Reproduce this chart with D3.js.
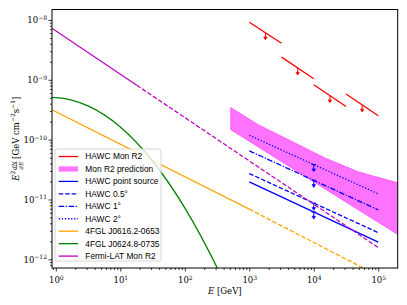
<!DOCTYPE html>
<html>
<head>
<meta charset="utf-8">
<script src="https://cdn.jsdelivr.net/npm/d3@7/dist/d3.min.js"></script>
<style>
  body { margin: 0; background: #fff; }
  svg { display: block; }
  .tick text { font-family: "DejaVu Serif", "Liberation Serif", serif; }
</style>
</head>
<body>
<div class="chart"></div>
<script>
// HAWC Mon R2 upper limits, one segment per bin
var hawcBinLo = [1000, 3162, 10000, 31623];
var hawcBinHi = [3162, 10000, 31623, 100000];
var hawcFluxLo = [9.16e-9, 2.39e-9, 8.26e-10, 5.78e-10];
var hawcFluxHi = [4.09e-9, 1.04e-9, 3.59e-10, 2.51e-10];

// Mon R2 prediction band
var bandE = [515, 1380, 4540, 14900, 49000, 200000];
var bandHi = [3.45e-10, 1.78e-10, 9.37e-11, 4.95e-11, 2.90e-11, 1.90e-11];
var bandLo = [1.47e-10, 7.53e-11, 3.37e-11, 1.50e-11, 6.71e-12, 2.61e-12];

// HAWC sensitivities (endpoints at 1 TeV and 100 TeV)
var hawcE = [1000, 100000];
var hawcPoint = [1.97e-11, 1.94e-12];
var hawcHalf = [2.71e-11, 2.79e-12];
var hawcOne = [6.5e-11, 6.7e-12];
var hawcTwo = [1.18e-10, 1.24e-11];
var hawcUlE = 10000;
var hawcUlFlux = [6.18e-12, 8.70e-12, 2.09e-11, 3.83e-11];

// 4FGL J0616.2-0653
var orangeE = [0.87, 1000, 100000];
var orangeF = [3.16e-10, 6.9e-12, 5.3e-13];

// 4FGL J0624.8-0735
var greenE = [0.87, 1, 3.16, 10, 31.6, 100, 316, 398];
var greenF = [5.07e-10, 5.05e-10, 3.66e-10, 1.63e-10, 4.40e-11, 7.26e-12, 7.31e-13, 4.36e-13];

// Fermi-LAT Mon R2
var fermiE = [0.87, 18, 100000];
var fermiF = [7.28e-9, 8.1e-10, 1.57e-12];

var xTicks = [1, 10, 100, 1000, 10000, 100000];
var yTicks = [1e-12, 1e-11, 1e-10, 1e-9, 1e-8];

var legendLabels = ["HAWC Mon R2", "Mon R2 prediction", "HAWC point source", "HAWC 0.5°",
  "HAWC 1°", "HAWC 2°", "4FGL J0616.2-0653", "4FGL J0624.8-0735", "Fermi-LAT Mon R2"];

var red = "#ff0000", blue = "#0000ff", orange = "#ffa500", green = "#008000", magenta = "#bf00bf";

var width = 407, height = 305;
var margins = { top: 9.5, right: 9.3, bottom: 37, left: 52 };
var chartWidth = width - margins.left - margins.right;
var chartHeight = height - margins.top - margins.bottom;

var svg = d3.select("div.chart").append("svg")
  .attr("width", width)
  .attr("height", height);

var chart = svg.append("g")
  .attr("transform", `translate(${margins.left},${margins.top})`);

var xScale = d3.scaleLog().domain([0.873, 2e5]).range([0, chartWidth]);
var yScale = d3.scaleLog().domain([7.16e-13, 1.496e-8]).range([chartHeight, 0]);

svg.append("defs").append("clipPath").attr("id", "plotclip")
  .append("rect").attr("width", chartWidth).attr("height", chartHeight);

var plot = chart.append("g").attr("clip-path", "url(#plotclip)");

var line = d3.line().x(d => xScale(d[0])).y(d => yScale(d[1]));
var zip = (a, b) => a.map((v, i) => [v, b[i]]);

function drawPath(pts, color, dash, curve) {
  var l = curve ? line.curve(curve) : line.curve(d3.curveLinear);
  return plot.append("path")
    .attr("d", l(pts))
    .attr("fill", "none")
    .attr("stroke", color)
    .attr("stroke-width", 1.3)
    .attr("stroke-dasharray", dash || null);
}

// down arrow used for upper limits
function ulArrow(x, y, color, cap) {
  var g = plot.append("g").attr("stroke", color).attr("fill", color);
  if (cap) {
    g.append("line").attr("x1", x - 2.2).attr("x2", x + 2.2).attr("y1", y).attr("y2", y).attr("stroke-width", 1);
  }
  g.append("line").attr("x1", x).attr("x2", x).attr("y1", y).attr("y2", y + 5).attr("stroke-width", 1);
  g.append("path").attr("d", `M${x - 1.8},${y + 4.3}L${x + 1.8},${y + 4.3}L${x},${y + 7.2}Z`).attr("stroke-width", 0.6);
}

// HAWC Mon R2
hawcBinLo.forEach(function(lo, i) {
  drawPath([[lo, hawcFluxLo[i]], [hawcBinHi[i], hawcFluxHi[i]]], red);
  var xm = Math.sqrt(lo * hawcBinHi[i]);
  var fm = Math.sqrt(hawcFluxLo[i] * hawcFluxHi[i]);
  ulArrow(xScale(xm), yScale(fm), red, false);
});

// prediction band
var area = d3.area()
  .x(d => xScale(d[0]))
  .y0(d => yScale(d[2]))
  .y1(d => yScale(d[1]));
plot.append("path")
  .attr("d", area(bandE.map((e, i) => [e, bandHi[i], bandLo[i]])))
  .attr("fill", "#ff00ff")
  .attr("fill-opacity", 0.55)
  .attr("stroke", "#ff00ff")
  .attr("stroke-opacity", 0.55)
  .attr("stroke-width", 0.8);

// HAWC sensitivities
var hawcSeries = [hawcPoint, hawcHalf, hawcOne, hawcTwo];
var hawcDash = [null, "4.5,2", "5.5,1.6,1.2,1.6", "1.3,1.8"];
hawcSeries.forEach(function(f, i) {
  drawPath(zip(hawcE, f), blue, hawcDash[i]);
  ulArrow(xScale(hawcUlE), yScale(hawcUlFlux[i]), blue, true);
});

// Fermi sources
drawPath(zip(orangeE.slice(0, 2), orangeF.slice(0, 2)), orange);
drawPath(zip(orangeE.slice(1), orangeF.slice(1)), orange, "4.5,2");
drawPath(zip(greenE, greenF), green, null, d3.curveMonotoneX);
drawPath(zip(fermiE.slice(0, 2), fermiF.slice(0, 2)), magenta);
drawPath(zip(fermiE.slice(1), fermiF.slice(1)), magenta, "4.5,2");

// axes
function sup(sel, d) {
  var e = Math.round(Math.log10(d));
  sel.text("");
  sel.append("tspan").text("10");
  sel.append("tspan").attr("dy", "-0.55em").attr("font-size", "6px")
    .text(e < 0 ? "\u2212" + (-e) : e);
}

var xAxis = d3.axisBottom(xScale).tickValues(xTicks).tickSize(3.5).tickSizeOuter(0);
var gx = chart.append("g").attr("class", "x axis").attr("transform", `translate(0,${chartHeight})`).call(xAxis);
gx.selectAll(".tick text").attr("font-size", "8.5px").attr("dy", "1.05em").each(function(d) { sup(d3.select(this), d); });

var xMinor = [];
for (var p = -1; p <= 5; p++) for (var k = 2; k <= 9; k++) xMinor.push(k * Math.pow(10, p));
xMinor = xMinor.filter(v => v > 0.873 && v < 2e5);
chart.append("g").attr("transform", `translate(0,${chartHeight})`)
  .call(d3.axisBottom(xScale).tickValues(xMinor).tickSize(2).tickFormat("").tickSizeOuter(0))
  .call(g => g.select(".domain").remove());

var yAxis = d3.axisLeft(yScale).tickValues(yTicks).tickSize(3.5).tickSizeOuter(0);
var gy = chart.append("g").attr("class", "y axis").call(yAxis);
gy.selectAll(".tick text").attr("font-size", "8.5px").attr("x", -5).each(function(d) { sup(d3.select(this), d); });

var yMinor = [];
for (var q = -13; q <= -8; q++) for (var m = 2; m <= 9; m++) yMinor.push(m * Math.pow(10, q));
yMinor = yMinor.filter(v => v > 7.16e-13 && v < 1.496e-8);
chart.append("g")
  .call(d3.axisLeft(yScale).tickValues(yMinor).tickSize(2).tickFormat("").tickSizeOuter(0))
  .call(g => g.select(".domain").remove());

// frame
chart.append("rect").attr("width", chartWidth).attr("height", chartHeight)
  .attr("fill", "none").attr("stroke", "#000").attr("stroke-width", 1);
chart.selectAll(".domain").remove();
chart.selectAll(".tick line").attr("stroke", "#000").attr("stroke-width", 0.8);

// axis labels
svg.append("text")
  .attr("x", margins.left + chartWidth / 2).attr("y", 294)
  .attr("text-anchor", "middle")
  .attr("font-family", "DejaVu Serif, serif").attr("font-size", "8.5px")
  .call(t => {
    t.append("tspan").attr("font-style", "italic").text("E");
    t.append("tspan").text(" [GeV]");
  });

// y label: E^2 dN/dE [GeV cm^-2 s^-1], built piece by piece in a rotated group
var ylabOuter = svg.append("g")
  .attr("transform", `translate(19,${margins.top + chartHeight / 2}) rotate(-90)`);
var ylab = ylabOuter.append("g")
  .attr("font-family", "DejaVu Serif, serif").attr("font-size", "8.5px");
var cursor = 0;
function piece(txt, size, dy, italic) {
  var t = ylab.append("text").attr("x", cursor).attr("y", dy).attr("font-size", size + "px")
    .attr("font-style", italic ? "italic" : null).text(txt);
  cursor += t.node().getComputedTextLength();
  return t;
}
piece("E", 8.5, 0, true);
piece("2", 6, -3.6, false);
cursor += 1;
var fx = cursor;
var num = ylab.append("text").attr("x", fx).attr("y", -3.2).attr("font-size", "5.5px").attr("font-style", "italic").text("dN");
var den = ylab.append("text").attr("x", fx).attr("y", 3.6).attr("font-size", "5.5px").attr("font-style", "italic").text("dE");
var fw = Math.max(num.node().getComputedTextLength(), den.node().getComputedTextLength());
num.attr("x", fx + (fw - num.node().getComputedTextLength()) / 2);
den.attr("x", fx + (fw - den.node().getComputedTextLength()) / 2);
ylab.append("line").attr("x1", fx).attr("x2", fx + fw).attr("y1", -2.4).attr("y2", -2.4)
  .attr("stroke", "#000").attr("stroke-width", 0.5);
cursor += fw + 2.5;
piece("[GeV cm", 8.5, 0, false);
piece("\u22122", 6, -3.6, false);
piece(" s", 8.5, 0, false);
piece("\u22121", 6, -3.6, false);
piece("]", 8.5, 0, false);
ylab.attr("transform", `translate(${-cursor / 2},0)`);

// legend
var legend = chart.append("g").attr("transform", "translate(3,139.5)");
legend.append("rect").attr("width", 106).attr("height", 112).attr("rx", 2)
  .attr("fill", "#fff").attr("fill-opacity", 0.8).attr("stroke", "#cccccc").attr("stroke-width", 0.8);

var legendStyle = [
  { c: red }, { band: true }, { c: blue }, { c: blue, d: "4.5,2" }, { c: blue, d: "5.5,1.6,1.2,1.6" },
  { c: blue, d: "1.3,1.8" }, { c: orange }, { c: green }, { c: magenta }
];
legendLabels.forEach(function(lab, i) {
  var yy = 7.5 + i * 12.45;
  var s = legendStyle[i];
  if (s.band) {
    legend.append("rect").attr("x", 3.7).attr("y", yy - 2.6).attr("width", 19.3).attr("height", 5.2)
      .attr("fill", "#ff00ff").attr("fill-opacity", 0.55);
  } else {
    legend.append("line").attr("x1", 3.7).attr("x2", 23).attr("y1", yy).attr("y2", yy)
      .attr("stroke", s.c).attr("stroke-width", 1.3).attr("stroke-dasharray", s.d || null);
  }
  legend.append("text").attr("x", 30.3).attr("y", yy).attr("dy", "0.35em")
    .attr("font-family", "Liberation Sans, Arial, sans-serif").attr("font-size", "8.4px")
    .text(lab);
});
</script>
</body>
</html>
